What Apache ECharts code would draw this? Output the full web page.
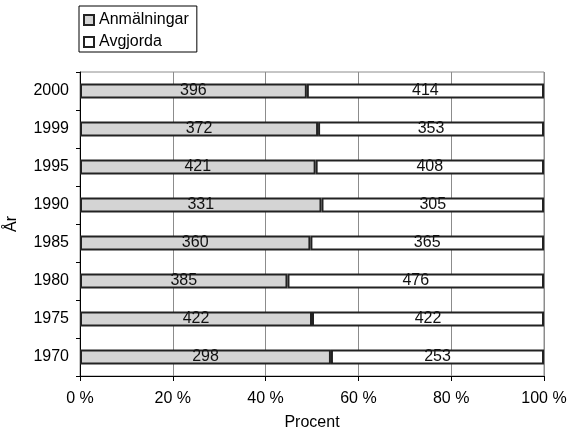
<!DOCTYPE html>
<html>
<head>
<meta charset="utf-8">
<script src="https://cdn.jsdelivr.net/npm/echarts@6/dist/echarts.min.js"></script>
<style>
html,body{margin:0;padding:0;background:#fff;}
#c{width:571px;height:428px;}
</style>
</head>
<body>
<div id="c"></div>
<script>
var years = ['1970','1975','1980','1985','1990','1995','1999','2000'];
var anmalningar = [298, 422, 385, 360, 331, 421, 372, 396];
var avgjorda = [253, 422, 476, 365, 305, 408, 353, 414];
var xTicks = [0, 20, 40, 60, 80, 100];

function pctData(vals, other) {
  return vals.map(function (v, i) {
    return { value: v / (v + other[i]) * 100, raw: v };
  });
}

var font = '"Liberation Sans", Arial, sans-serif';
var chart = echarts.init(document.getElementById('c'));
chart.setOption({
  animation: false,
  textStyle: { fontFamily: font },
  legend: {
    orient: 'vertical',
    left: 79,
    top: 6,
    padding: [6, 8, 2, 4],
    itemGap: 6,
    itemWidth: 10,
    itemHeight: 10,
    icon: 'rect',
    borderColor: '#000',
    borderWidth: 1,
    textStyle: { fontFamily: font, fontSize: 16, color: '#000' },
    data: ['Anmälningar', 'Avgjorda']
  },
  grid: {
    left: 80, right: 27, top: 72, bottom: 52,
    outerBoundsMode: 'none',
    containLabel: false,
    show: true, borderColor: '#8c8c8c', borderWidth: 1
  },
  xAxis: {
    type: 'value',
    min: 0, max: 100, interval: 20,
    name: 'Procent',
    nameLocation: 'middle',
    nameGap: 39,
    nameTextStyle: { fontFamily: font, fontSize: 16, color: '#000' },
    axisLine: { show: true, lineStyle: { color: '#000', width: 1 } },
    axisTick: { show: true, length: 5, lineStyle: { color: '#000' } },
    axisLabel: {
      fontFamily: font, fontSize: 16, color: '#000', margin: 15,
      formatter: function (v) { return xTicks.indexOf(v) >= 0 ? v + ' %' : ''; }
    },
    splitLine: { show: true, lineStyle: { color: '#8c8c8c', width: 1 } }
  },
  yAxis: {
    type: 'category',
    data: years,
    name: 'År',
    nameLocation: 'middle',
    nameGap: 60,
    nameRotate: 90,
    nameTextStyle: { fontFamily: font, fontSize: 16, color: '#000' },
    axisLine: { show: true, lineStyle: { color: '#000', width: 1 } },
    axisTick: { show: true, length: 4, lineStyle: { color: '#000' } },
    axisLabel: { fontFamily: font, fontSize: 16, color: '#000', margin: 11 },
    splitLine: { show: false }
  },
  series: [
    {
      name: 'Anmälningar',
      type: 'bar',
      stack: 'total',
      barWidth: 15,
      data: pctData(anmalningar, avgjorda),
      itemStyle: { color: '#d4d4d4', borderColor: '#222', borderWidth: 2 },
      label: {
        show: true, position: 'inside', fontFamily: font, fontSize: 16, color: '#111',
        formatter: function (p) { return p.data.raw; }
      }
    },
    {
      name: 'Avgjorda',
      type: 'bar',
      stack: 'total',
      barWidth: 15,
      data: pctData(avgjorda, anmalningar),
      itemStyle: { color: '#ffffff', borderColor: '#222', borderWidth: 2 },
      label: {
        show: true, position: 'inside', fontFamily: font, fontSize: 16, color: '#111',
        formatter: function (p) { return p.data.raw; }
      }
    }
  ]
});
</script>
</body>
</html>
